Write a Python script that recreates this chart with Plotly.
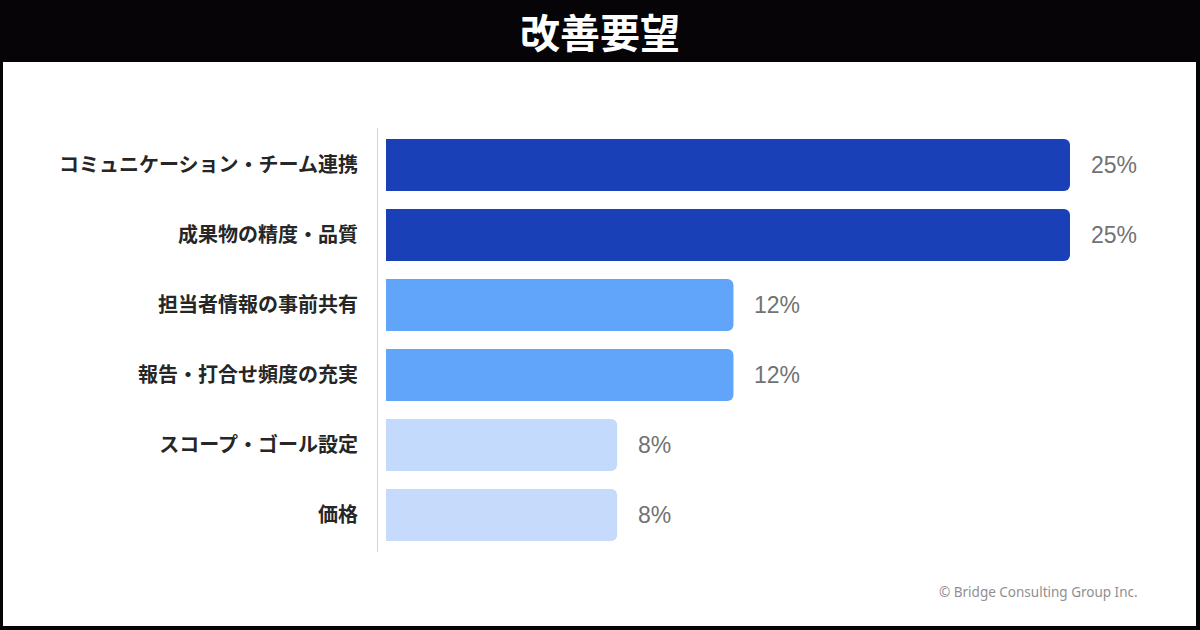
import plotly.graph_objects as go

categories = ["コミュニケーション・チーム連携", "成果物の精度・品質", "担当者情報の事前共有",
              "報告・打合せ頻度の充実", "スコープ・ゴール設定", "価格"]
values = [25, 25, 12.7, 12.7, 8.45, 8.45]
value_labels = ["25%", "25%", "12%", "12%", "8%", "8%"]
bar_colors = ["#1a40b8", "#1a40b8", "#60a5fa", "#60a5fa", "#c3dafd", "#c6dbfc"]
title_text = "改善要望"
footer_text = "© Bridge Consulting Group Inc."

W, H = 1200, 630
L, R, T, B = 386, 20, 130, 80
pw, ph = W - L - R, H - T - B


def px(x):
    return (x - L) / pw


def py(y):
    return (H - B - y) / ph


fig = go.Figure()
fig.add_trace(go.Bar(
    x=values, y=categories, orientation="h",
    marker=dict(color=bar_colors, line=dict(width=0)),
    width=0.743, hoverinfo="skip",
))

annotations = []
for c, v, t in zip(categories, values, value_labels):
    annotations.append(dict(x=v, y=c, xref="x", yref="y", text=t, showarrow=False,
                            xanchor="left", xshift=19,
                            font=dict(family="Liberation Sans, Arial, sans-serif", size=23, color="#727272")))
annotations.append(dict(x=px(600), y=py(31), xref="paper", yref="paper", text="<b>" + title_text + "</b>",
                        showarrow=False, xanchor="center", yanchor="middle",
                        font=dict(family="Noto Sans CJK JP", size=40, color="white")))
annotations.append(dict(x=px(1140), y=py(592), xref="paper", yref="paper", text=footer_text,
                        showarrow=False, xanchor="right", yanchor="middle",
                        font=dict(family="Noto Sans, sans-serif", size=13.5, color="#8f8f8f")))

shapes = [
    dict(type="rect", xref="paper", yref="paper", x0=px(0), x1=px(W), y0=py(62), y1=py(0),
         fillcolor="#060407", line=dict(width=0), layer="below"),
    dict(type="rect", xref="paper", yref="paper", x0=px(0), x1=px(3), y0=py(H), y1=py(0),
         fillcolor="#060407", line=dict(width=0), layer="below"),
    dict(type="rect", xref="paper", yref="paper", x0=px(1196), x1=px(W), y0=py(H), y1=py(0),
         fillcolor="#060407", line=dict(width=0), layer="below"),
    dict(type="rect", xref="paper", yref="paper", x0=px(0), x1=px(W), y0=py(H), y1=py(626),
         fillcolor="#060407", line=dict(width=0), layer="below"),
    dict(type="line", xref="paper", yref="paper", x0=px(377.5), x1=px(377.5), y0=py(552), y1=py(128),
         line=dict(color="#d4d4d4", width=1)),
]

fig.update_layout(
    width=W, height=H,
    margin=dict(l=L, r=R, t=T, b=B, autoexpand=False),
    paper_bgcolor="white", plot_bgcolor="white",
    showlegend=False,
    barcornerradius=6,
    xaxis=dict(range=[0, 25 * pw / 684], visible=False, fixedrange=True),
    yaxis=dict(autorange="reversed", showgrid=False, zeroline=False, showline=False,
               ticks="outside", ticklen=23, tickcolor="rgba(0,0,0,0)",
               tickfont=dict(family="Noto Sans CJK JP", size=20, color="#262626", weight=600),
               fixedrange=True),
    annotations=annotations,
    shapes=shapes,
)

fig.write_html("out.html", config={"displayModeBar": False},
               post_script="document.body.style.margin='0';document.body.style.overflow='hidden';")
